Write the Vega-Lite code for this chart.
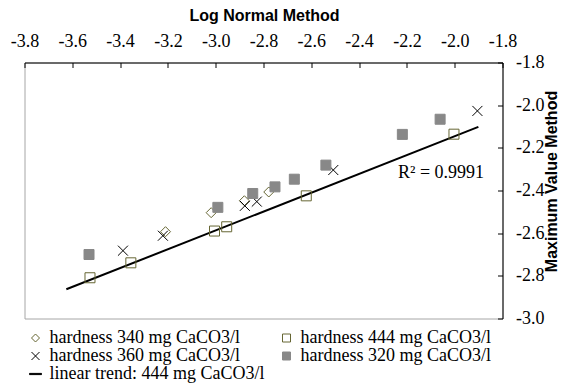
{
  "$schema": "https://vega.github.io/schema/vega-lite/v6.json",
  "width": 478,
  "height": 256,
  "autosize": {"type": "none"},
  "padding": {"left": 24.5, "top": 62.5, "right": 66.5, "bottom": 66.5},
  "background": "white",
  "config": {
    "font": "Liberation Serif",
    "view": {"stroke": "#a6a6a6", "strokeWidth": 1},
    "legend": {"labelFont": "Liberation Serif", "labelFontSize": 18, "labelColor": "black"},
    "axis": {
      "grid": false,
      "domainColor": "black",
      "domainWidth": 1,
      "tickColor": "black",
      "tickWidth": 1,
      "tickSize": -5,
      "labelFont": "Liberation Serif",
      "labelFontSize": 18,
      "labelColor": "black",
      "labelFlush": false,
      "labelOverlap": false,
      "labelBound": false,
      "titleFont": "Liberation Sans",
      "titleFontWeight": "bold",
      "titleFontSize": 16,
      "titleColor": "black"
    }
  },
  "datasets": {
    "pts": [
      {"series": "hardness 340 mg CaCO3/l", "x": -3.21, "y": -2.593},
      {"series": "hardness 340 mg CaCO3/l", "x": -3.019, "y": -2.504},
      {"series": "hardness 340 mg CaCO3/l", "x": -2.88, "y": -2.448},
      {"series": "hardness 340 mg CaCO3/l", "x": -2.778, "y": -2.407},
      {"series": "hardness 360 mg CaCO3/l", "x": -3.388, "y": -2.682},
      {"series": "hardness 360 mg CaCO3/l", "x": -3.221, "y": -2.612},
      {"series": "hardness 360 mg CaCO3/l", "x": -2.878, "y": -2.472},
      {"series": "hardness 360 mg CaCO3/l", "x": -2.828, "y": -2.452},
      {"series": "hardness 360 mg CaCO3/l", "x": -2.508, "y": -2.304},
      {"series": "hardness 360 mg CaCO3/l", "x": -1.905, "y": -2.027},
      {"series": "hardness 444 mg CaCO3/l", "x": -3.526, "y": -2.809},
      {"series": "hardness 444 mg CaCO3/l", "x": -3.355, "y": -2.739},
      {"series": "hardness 444 mg CaCO3/l", "x": -3.005, "y": -2.59},
      {"series": "hardness 444 mg CaCO3/l", "x": -2.954, "y": -2.57},
      {"series": "hardness 444 mg CaCO3/l", "x": -2.621, "y": -2.425},
      {"series": "hardness 444 mg CaCO3/l", "x": -2.003, "y": -2.136},
      {"series": "hardness 320 mg CaCO3/l", "x": -3.53, "y": -2.7},
      {"series": "hardness 320 mg CaCO3/l", "x": -2.991, "y": -2.479},
      {"series": "hardness 320 mg CaCO3/l", "x": -2.845, "y": -2.414},
      {"series": "hardness 320 mg CaCO3/l", "x": -2.752, "y": -2.383},
      {"series": "hardness 320 mg CaCO3/l", "x": -2.671, "y": -2.347},
      {"series": "hardness 320 mg CaCO3/l", "x": -2.539, "y": -2.281},
      {"series": "hardness 320 mg CaCO3/l", "x": -2.219, "y": -2.137},
      {"series": "hardness 320 mg CaCO3/l", "x": -2.061, "y": -2.066}
    ],
    "trend": [
      {"series": "linear trend: 444 mg CaCO3/l", "x": -3.625, "y": -2.863},
      {"series": "linear trend: 444 mg CaCO3/l", "x": -1.901, "y": -2.102}
    ],
    "note": [
      {"x": -2.057, "y": -2.318, "text": "R² = 0.9991"}
    ]
  },
  "layer": [
    {
      "data": {"name": "trend"},
      "mark": {"type": "line", "strokeWidth": 2},
      "encoding": {
        "x": {"field": "x", "type": "quantitative", "scale": {"domain": [-3.8, -1.8], "nice": false, "zero": false},
          "axis": {"orient": "top", "title": "Log Normal Method", "values": [-3.8, -3.6, -3.4, -3.2, -3.0, -2.8, -2.6, -2.4, -2.2, -2.0, -1.8],
            "labelExpr": "replace(format(datum.value, '.1f'), '−', '-')", "labelFont": "Liberation Serif", "labelFontSize": 18, "labelPadding": 17,
            "titleX": 239.5, "titleY": -47, "titleAlign": "center", "titleBaseline": "middle", "titleAnchor": null}},
        "y": {"field": "y", "type": "quantitative", "scale": {"domain": [-3.0, -1.8], "nice": false, "zero": false},
          "axis": {"orient": "right", "title": "Maximum Value Method", "values": [-3.0, -2.8, -2.6, -2.4, -2.2, -2.0, -1.8],
            "labelExpr": "replace(format(datum.value, '.1f'), '−', '-')", "labelFont": "Liberation Serif", "labelFontSize": 18, "labelPadding": 18,
            "titleAngle": 270, "titleX": 49, "titleY": 118.5, "titleAlign": "center", "titleBaseline": "middle", "titleAnchor": null}},
        "stroke": {"field": "series", "type": "nominal",
          "scale": {"domain": ["hardness 340 mg CaCO3/l", "hardness 444 mg CaCO3/l", "hardness 360 mg CaCO3/l", "hardness 320 mg CaCO3/l", "linear trend: 444 mg CaCO3/l"],
            "range": ["#666633", "#666633", "black", "#888888", "black"]},
          "legend": {"orient": "none", "legendX": 2, "legendY": 266.5, "direction": "horizontal", "columns": 2, "title": null,
            "labelFont": "Liberation Serif", "labelFontSize": 18, "labelColor": "black", "symbolSize": 64, "symbolStrokeWidth": 1,
            "columnPadding": 13, "rowPadding": 0, "labelOffset": 5, "labelLimit": 400, "padding": 0}}
      }
    },
    {
      "data": {"name": "pts"},
      "mark": {"type": "point", "opacity": 1, "strokeWidth": 1, "size": 100},
      "encoding": {
        "x": {"field": "x", "type": "quantitative"},
        "y": {"field": "y", "type": "quantitative"},
        "stroke": {"field": "series", "type": "nominal"},
        "shape": {"field": "series", "type": "nominal",
          "scale": {"domain": ["hardness 340 mg CaCO3/l", "hardness 444 mg CaCO3/l", "hardness 360 mg CaCO3/l", "hardness 320 mg CaCO3/l", "linear trend: 444 mg CaCO3/l"],
            "range": ["M0,-1L1,0L0,1L-1,0Z", "M-1,-1L1,-1L1,1L-1,1Z", "M-1,-1L1,1M-1,1L1,-1", "M-1,-1L1,-1L1,1L-1,1Z", "M-1.5,-0.15L1.5,-0.15L1.5,0.15L-1.5,0.15Z"]}},
        "fill": {"field": "series", "type": "nominal",
          "scale": {"domain": ["hardness 340 mg CaCO3/l", "hardness 444 mg CaCO3/l", "hardness 360 mg CaCO3/l", "hardness 320 mg CaCO3/l", "linear trend: 444 mg CaCO3/l"],
            "range": ["transparent", "transparent", "transparent", "#888888", "black"]}}
      }
    },
    {
      "data": {"name": "note"},
      "mark": {"type": "text", "font": "Liberation Serif", "fontSize": 18, "align": "center", "baseline": "middle", "color": "black"},
      "encoding": {
        "x": {"field": "x", "type": "quantitative"},
        "y": {"field": "y", "type": "quantitative"},
        "text": {"field": "text"}
      }
    }
  ]
}
